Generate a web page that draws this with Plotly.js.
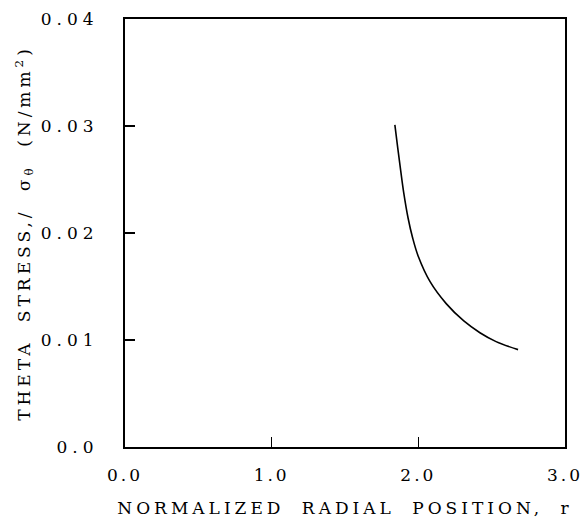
<!DOCTYPE html>
<html>
<head>
<meta charset="utf-8">
<script src="https://cdn.plot.ly/plotly-3.0.1.min.js"></script>
<style>
  html, body { margin: 0; padding: 0; background: #fff; }
  #chart { width: 586px; height: 520px; }
</style>
</head>
<body>
<div id="chart"></div>
<script>
// Normalized radial position r
const radialPosition = [1.84, 1.86, 1.88, 1.90, 1.93, 1.96, 2.00, 2.08, 2.19, 2.31, 2.42, 2.53, 2.68];
// Theta stress (N/mm^2)
const thetaStress = [0.0301, 0.0279, 0.0258, 0.0238, 0.0214, 0.0196, 0.0178, 0.01545, 0.0134, 0.01178, 0.01068, 0.00985, 0.0091];

const xTickVals = [0, 1, 2, 3];
const xTickText = ["0.0", "1.0", "2.0", "3.0"];
const yTickVals = [0, 0.01, 0.02, 0.03, 0.04];
const yTickText = ["0.0", "0.01", "0.02", "0.03", "0.04"];

const fontFamily = "DejaVu Serif, Liberation Serif, serif";

const trace = {
  x: radialPosition,
  y: thetaStress,
  type: "scatter",
  mode: "lines",
  line: { color: "#000", width: 1.6, shape: "spline", smoothing: 1 },
  hoverinfo: "skip"
};

const layout = {
  width: 586,
  height: 520,
  margin: { l: 125, r: 21, t: 19, b: 73 },
  paper_bgcolor: "#fff",
  plot_bgcolor: "#fff",
  showlegend: false,
  font: { family: fontFamily, color: "#000", size: 17 },
  xaxis: {
    range: [0, 3],
    tickvals: xTickVals,
    ticktext: xTickText,
    ticks: "inside",
    ticklen: 10,
    tickwidth: 1.5,
    tickcolor: "#000",
    ticklabelstandoff: 12,
    showline: true,
    linewidth: 2,
    linecolor: "#000",
    mirror: true,
    showgrid: false,
    zeroline: false,
    tickfont: { family: fontFamily, size: 17, color: "#000" },
    title: { text: "NORMALIZED RADIAL POSITION, r", font: { family: fontFamily, size: 17, color: "#000" }, standoff: 18 }
  },
  yaxis: {
    range: [0, 0.04],
    tickvals: yTickVals,
    ticktext: yTickText,
    ticks: "inside",
    ticklen: 10,
    tickwidth: 1.5,
    tickcolor: "#000",
    ticklabelstandoff: 21,
    showline: true,
    linewidth: 2,
    linecolor: "#000",
    mirror: true,
    showgrid: false,
    zeroline: false,
    tickfont: { family: fontFamily, size: 17, color: "#000" },
    title: { text: "THETA STRESS,/ σ<sub>θ</sub> (N/mm<sup>2</sup>)", font: { family: fontFamily, size: 17, color: "#000" }, standoff: 26 }
  }
};

Plotly.newPlot("chart", [trace], layout, { displayModeBar: false, staticPlot: true }).then(function (gd) {
  gd.querySelectorAll(".xtick text").forEach(function (t) { t.style.letterSpacing = "3px"; });
  gd.querySelectorAll(".ytick text").forEach(function (t) { t.style.letterSpacing = "5px"; });
  const xt = gd.querySelector(".xtitle");
  if (xt) { xt.style.letterSpacing = "4px"; xt.style.wordSpacing = "8px"; }
  const yt = gd.querySelector(".ytitle");
  if (yt) { yt.style.letterSpacing = "4px"; yt.style.wordSpacing = "8px"; }
});
</script>
</body>
</html>
